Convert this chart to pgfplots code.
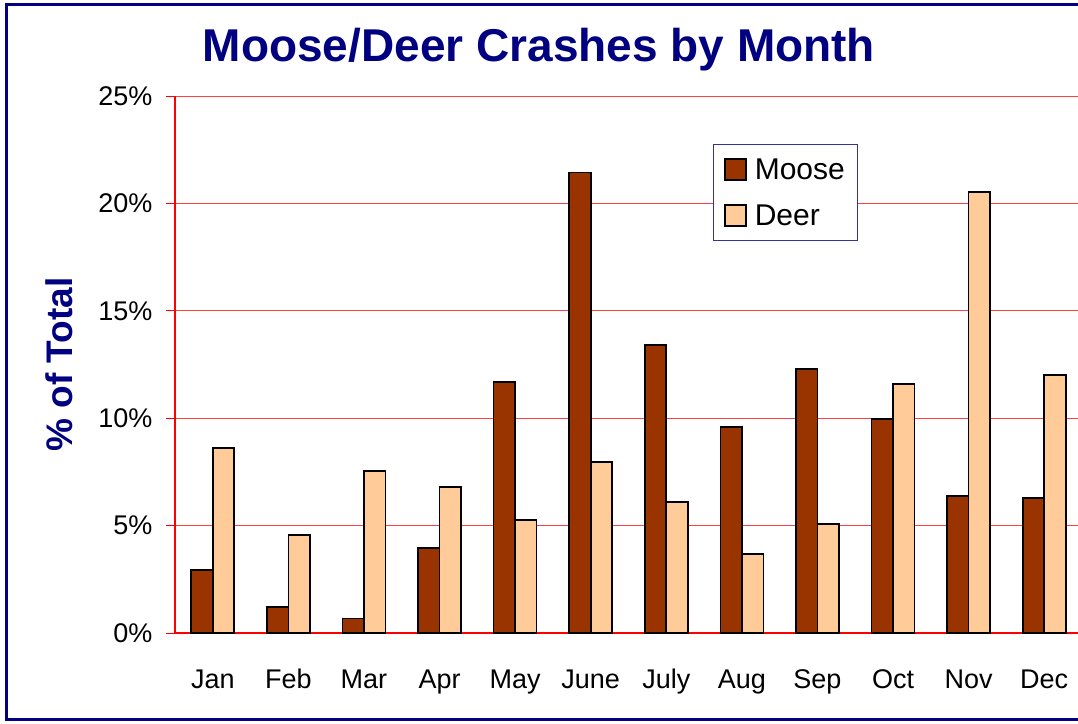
\documentclass[border=0pt]{standalone}
\usepackage{pgfplots}
\pgfplotsset{compat=1.18}
\usepackage{fontspec}
\setmainfont{Liberation Sans}
\definecolor{moose}{HTML}{993300}
\definecolor{deer}{HTML}{FFCC99}
\definecolor{navy}{HTML}{000080}
\begin{document}
\begin{tikzpicture}[x=1pt,y=1pt]
\clip (0,0) rectangle (1078,723);
\path[use as bounding box] (0,0) rectangle (1078,723);
\draw[navy, line width=3pt] (6.5,3.5) rectangle (1100,718.5);
\node[navy, font=\fontsize{46}{50}\selectfont\bfseries, anchor=base] at (539,661) {Moose/Deer Crashes by Month};
\begin{axis}[
  at={(175pt,90pt)}, anchor=south west,
  scale only axis, width=907pt, height=537pt,
  ybar=0pt, bar width=21.5pt,
  xmin=-0.5, xmax=11.5, ymin=0, ymax=25,
  axis x line*=bottom, axis y line*=left,
  axis line style={red, line width=1.5pt, -},
  xtick={0,...,11},
  xticklabels={Jan,Feb,Mar,Apr,May,June,July,Aug,Sep,Oct,Nov,Dec},
  minor xtick={-0.5,0.5,...,11.5},
  xtick style={draw=none},
  minor x tick style={red, line width=0.8pt},
  minor tick length=9pt,
  ytick={0,5,...,25},
  yticklabel={\pgfmathprintnumber{\tick}\%},
  ytick style={red, line width=0.8pt},
  major tick length=9pt,
  tick align=outside,
  ymajorgrids, major grid style={red!75, line width=0.9pt},
  tick label style={font=\fontsize{27}{29}\selectfont},
  /pgf/number format/assume math mode=true,
  xticklabel style={text height=19pt, text depth=6pt, yshift=-24pt},
  yticklabel style={xshift=-10pt},
  ylabel={\% of Total},
  every axis y label/.style={at={(rel axis cs:-0.128,0.5)}, rotate=90, anchor=center,
    navy, font=\fontsize{37}{40}\selectfont\bfseries},
  legend style={at={(0.593,0.9106)}, anchor=north west, draw=navy!80, line width=0.8pt,
    font=\fontsize{30}{32}\selectfont, row sep=20pt, inner xsep=11pt, inner ysep=12pt},
  legend image code/.code={\draw[#1, draw=black, line width=1.5pt] (0pt,-10.5pt) rectangle (21pt,10.5pt);
    \path (27pt,0pt);},
  legend cell align=left,
]
\addplot[fill=moose, draw=black, line width=1.6pt] coordinates {
(0,2.93) (1,1.2) (2,0.68) (3,3.96) (4,11.69) (5,21.43) (6,13.4) (7,9.6) (8,12.3) (9,9.96) (10,6.38) (11,6.28)};
\addplot[fill=deer, draw=black, line width=1.6pt] coordinates {
(0,8.6) (1,4.56) (2,7.54) (3,6.8) (4,5.26) (5,7.96) (6,6.1) (7,3.68) (8,5.07) (9,11.6) (10,20.52) (11,12.0)};
\legend{Moose,Deer}
\end{axis}
\end{tikzpicture}
\end{document}
